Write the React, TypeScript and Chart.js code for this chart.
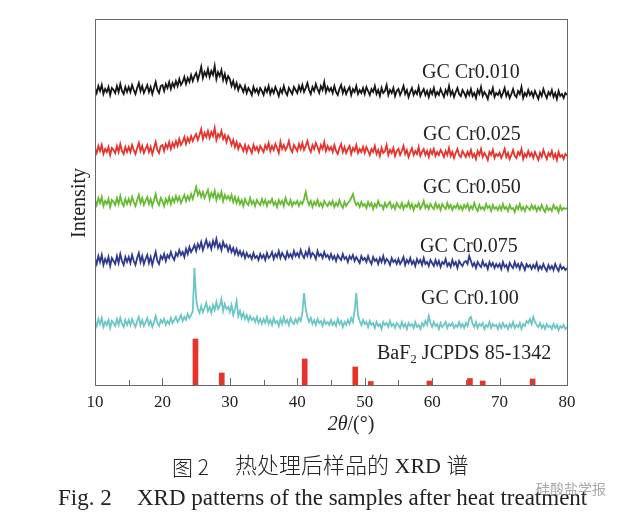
import React, { useEffect, useRef } from "react";
import { Chart, registerables } from "chart.js";

Chart.register(...registerables);

// 2θ sampling grid (degrees), 0.25° step
const twoTheta = [
  10, 10.25, 10.5, 10.75, 11, 11.25, 11.5, 11.75, 12, 12.25, 12.5, 12.75, 13, 13.25, 13.5, 13.75, 14, 14.25, 14.5, 14.75,
  15, 15.25, 15.5, 15.75, 16, 16.25, 16.5, 16.75, 17, 17.25, 17.5, 17.75, 18, 18.25, 18.5, 18.75, 19, 19.25, 19.5, 19.75,
  20, 20.25, 20.5, 20.75, 21, 21.25, 21.5, 21.75, 22, 22.25, 22.5, 22.75, 23, 23.25, 23.5, 23.75, 24, 24.25, 24.5, 24.75,
  25, 25.25, 25.5, 25.75, 26, 26.25, 26.5, 26.75, 27, 27.25, 27.5, 27.75, 28, 28.25, 28.5, 28.75, 29, 29.25, 29.5, 29.75,
  30, 30.25, 30.5, 30.75, 31, 31.25, 31.5, 31.75, 32, 32.25, 32.5, 32.75, 33, 33.25, 33.5, 33.75, 34, 34.25, 34.5, 34.75,
  35, 35.25, 35.5, 35.75, 36, 36.25, 36.5, 36.75, 37, 37.25, 37.5, 37.75, 38, 38.25, 38.5, 38.75, 39, 39.25, 39.5, 39.75,
  40, 40.25, 40.5, 40.75, 41, 41.25, 41.5, 41.75, 42, 42.25, 42.5, 42.75, 43, 43.25, 43.5, 43.75, 44, 44.25, 44.5, 44.75,
  45, 45.25, 45.5, 45.75, 46, 46.25, 46.5, 46.75, 47, 47.25, 47.5, 47.75, 48, 48.25, 48.5, 48.75, 49, 49.25, 49.5, 49.75,
  50, 50.25, 50.5, 50.75, 51, 51.25, 51.5, 51.75, 52, 52.25, 52.5, 52.75, 53, 53.25, 53.5, 53.75, 54, 54.25, 54.5, 54.75,
  55, 55.25, 55.5, 55.75, 56, 56.25, 56.5, 56.75, 57, 57.25, 57.5, 57.75, 58, 58.25, 58.5, 58.75, 59, 59.25, 59.5, 59.75,
  60, 60.25, 60.5, 60.75, 61, 61.25, 61.5, 61.75, 62, 62.25, 62.5, 62.75, 63, 63.25, 63.5, 63.75, 64, 64.25, 64.5, 64.75,
  65, 65.25, 65.5, 65.75, 66, 66.25, 66.5, 66.75, 67, 67.25, 67.5, 67.75, 68, 68.25, 68.5, 68.75, 69, 69.25, 69.5, 69.75,
  70, 70.25, 70.5, 70.75, 71, 71.25, 71.5, 71.75, 72, 72.25, 72.5, 72.75, 73, 73.25, 73.5, 73.75, 74, 74.25, 74.5, 74.75,
  75, 75.25, 75.5, 75.75, 76, 76.25, 76.5, 76.75, 77, 77.25, 77.5, 77.75, 78, 78.25, 78.5, 78.75, 79, 79.25, 79.5, 79.75,
  80,
];

// Offset intensities (arbitrary units)
const cr010 = [
  297, 292, 299, 294, 300, 291, 296, 293, 298, 290, 297, 295, 292, 299, 293, 301, 294, 291, 298, 293,
  298, 293, 300, 295, 291, 297, 302, 294, 299, 292, 296, 300, 293, 298, 291, 297, 303, 295, 292, 299,
  300, 294, 301, 297, 303, 296, 302, 298, 304, 299, 306, 300, 303, 308, 301, 307, 303, 310, 304, 309,
  312, 305, 311, 318, 307, 313, 309, 316, 308, 314, 310, 319, 306, 313, 309, 315, 305, 311, 303, 309,
  306, 299, 304, 297, 302, 295, 300, 297, 293, 299, 292, 297, 294, 290, 298, 293, 296, 291, 297, 294,
  290, 297, 293, 299, 291, 296, 292, 298, 294, 289, 296, 292, 299, 293, 290, 297, 294, 291, 298, 295,
  292, 299, 294, 300, 293, 297, 302, 295, 291, 298, 294, 301, 296, 292, 299, 295, 303, 293, 298, 294,
  297, 292, 299, 293, 290, 296, 300, 292, 297, 291, 295, 298, 290, 296, 293, 299, 291, 295, 292, 297,
  291, 298, 294, 290, 296, 293, 299, 291, 295, 289, 297, 292, 294, 300, 290, 295, 292, 297, 289, 294,
  296, 290, 294, 299, 291, 295, 288, 293, 297, 290, 294, 291, 298, 289, 293, 296, 290, 294, 288, 295,
  291, 297, 289, 293, 290, 296, 292, 288, 295, 291, 299, 290, 294, 288, 293, 297, 291, 289, 295, 292,
  288, 294, 290, 296, 289, 292, 287, 295, 291, 298, 289, 293, 290, 286, 294, 291, 297, 288, 292, 290,
  294, 288, 292, 297, 289, 293, 287, 291, 296, 290, 288, 294, 291, 298, 287, 292, 289, 295, 290, 293,
  288, 294, 290, 286, 293, 289, 296, 291, 287, 293, 290, 295, 288, 292, 286, 294, 289, 291, 287, 292,
  290,
];

const cr025 = [
  237, 232, 239, 234, 240, 231, 236, 233, 238, 230, 237, 235, 232, 239, 233, 241, 234, 231, 238, 233,
  238, 233, 240, 235, 231, 237, 242, 234, 239, 232, 236, 240, 233, 238, 231, 237, 243, 235, 232, 239,
  240, 234, 241, 237, 243, 236, 242, 238, 244, 239, 246, 240, 243, 248, 241, 247, 243, 249, 244, 248,
  251, 245, 250, 256, 246, 252, 248, 254, 247, 253, 249, 257, 245, 251, 248, 254, 246, 250, 243, 249,
  246, 240, 245, 238, 243, 236, 241, 238, 234, 240, 233, 239, 236, 232, 240, 235, 238, 233, 239, 236,
  233, 240, 236, 242, 234, 239, 235, 241, 237, 232, 243, 236, 240, 235, 238, 244, 236, 233, 240, 237,
  234, 241, 236, 242, 235, 239, 244, 237, 233, 240, 236, 242, 238, 233, 240, 236, 243, 234, 239, 235,
  238, 233, 240, 234, 231, 237, 241, 233, 238, 232, 236, 239, 231, 237, 234, 240, 232, 236, 233, 238,
  232, 238, 234, 230, 236, 233, 239, 231, 235, 229, 237, 232, 234, 240, 230, 235, 232, 237, 229, 234,
  236, 230, 234, 239, 231, 235, 228, 233, 237, 230, 234, 231, 238, 229, 233, 236, 230, 234, 228, 235,
  231, 236, 229, 233, 230, 235, 232, 228, 234, 230, 237, 229, 233, 227, 232, 236, 230, 228, 234, 231,
  228, 233, 229, 235, 228, 231, 226, 234, 230, 236, 228, 232, 229, 225, 233, 230, 235, 227, 231, 229,
  232, 227, 231, 236, 228, 232, 226, 230, 235, 229, 227, 233, 230, 236, 226, 231, 228, 234, 229, 232,
  227, 233, 229, 225, 232, 228, 235, 230, 226, 232, 229, 234, 227, 231, 225, 233, 228, 230, 226, 231,
  229,
];

const cr050 = [
  185, 180, 187, 182, 188, 179, 184, 181, 186, 178, 185, 183, 180, 187, 181, 189, 182, 179, 186, 181,
  186, 181, 188, 183, 179, 185, 190, 182, 187, 180, 184, 188, 181, 186, 179, 185, 191, 183, 180, 187,
  184, 179, 186, 182, 188, 181, 187, 183, 189, 184, 188, 182, 186, 190, 184, 189, 185, 191, 186, 192,
  198, 190, 194, 188, 193, 187, 191, 195, 186, 192, 188, 194, 185, 191, 187, 193, 184, 190, 186, 189,
  185, 190, 183, 188, 182, 187, 181, 185, 179, 186, 182, 180, 187, 181, 184, 179, 185, 182, 180, 186,
  181, 185, 179, 184, 182, 186, 180, 183, 178, 185, 181, 184, 179, 187, 182, 180, 185, 179, 183, 181,
  184, 179, 183, 181, 186, 193, 185, 180, 184, 178, 183, 180, 185, 179, 182, 178, 184, 181, 179, 183,
  180, 184, 178, 182, 179, 185, 180, 177, 183, 179, 182, 184, 187, 191, 184, 180, 182, 178, 183, 179,
  181, 177, 183, 179, 182, 176, 181, 178, 184, 179, 180, 176, 182, 178, 181, 183, 177, 180, 176, 182,
  179, 177, 182, 176, 180, 178, 183, 177, 181, 175, 180, 178, 182, 176, 179, 184, 177, 180, 176, 181,
  178, 176, 182, 177, 180, 175, 181, 178, 176, 182, 177, 180, 175, 179, 177, 181, 176, 179, 175, 180,
  177, 181, 175, 179, 176, 182, 177, 174, 180, 176, 178, 175, 181, 177, 179, 174, 180, 176, 178, 175,
  179, 175, 181, 176, 178, 174, 180, 176, 177, 173, 179, 176, 181, 175, 178, 174, 179, 177, 175, 180,
  176, 179, 174, 178, 175, 180, 176, 173, 179, 175, 177, 174, 180, 176, 178, 173, 179, 175, 177, 176,
  177,
];

const cr075 = [
  127, 121, 129, 123, 130, 120, 126, 122, 128, 119, 127, 124, 121, 129, 122, 131, 124, 120, 128, 123,
  128, 122, 130, 124, 120, 127, 132, 123, 129, 121, 126, 130, 122, 128, 120, 127, 133, 124, 121, 129,
  126, 131, 124, 130, 127, 133, 128, 125, 132, 129, 135, 130, 133, 128, 136, 131, 138, 133, 136, 140,
  134, 141, 137, 143, 135, 140, 145, 138, 142, 136, 144, 139, 146, 137, 141, 135, 143, 138, 140, 134,
  139, 133, 137, 131, 136, 130, 134, 129, 133, 127, 132, 128, 130, 126, 132, 127, 129, 125, 131, 127,
  130, 125, 132, 127, 129, 133, 126, 131, 128, 134, 127, 132, 129, 126, 133, 128, 131, 127, 134, 129,
  132, 128, 135, 130, 127, 133, 129, 136, 128, 132, 130, 126, 134, 129, 131, 127, 133, 128, 130, 126,
  131, 126, 129, 124, 130, 127, 125, 131, 126, 128, 123, 129, 126, 130, 124, 128, 125, 122, 129, 125,
  127, 123, 129, 124, 121, 128, 124, 126, 121, 127, 123, 129, 122, 126, 124, 120, 127, 123, 125, 121,
  126, 121, 124, 128, 120, 125, 122, 127, 121, 124, 119, 126, 122, 125, 120, 127, 121, 123, 119, 125,
  122, 119, 125, 120, 124, 118, 123, 121, 126, 119, 122, 118, 125, 120, 123, 117, 124, 121, 119, 123,
  124, 121, 129, 124, 119, 122, 117, 123, 120, 118, 124, 119, 121, 116, 123, 119, 122, 117, 121, 118,
  121, 116, 123, 118, 120, 115, 122, 119, 117, 123, 118, 121, 116, 122, 119, 115, 121, 118, 120, 116,
  120, 117, 122, 115, 119, 116, 121, 117, 114, 120, 116, 119, 115, 121, 117, 114, 120, 116, 118, 115,
  117,
];

const cr100 = [
  64, 59, 66, 61, 67, 58, 63, 60, 65, 57, 64, 62, 59, 66, 60, 67, 61, 58, 65, 60,
  65, 60, 66, 61, 58, 64, 68, 60, 65, 59, 63, 67, 60, 64, 58, 63, 69, 62, 59, 65,
  62, 66, 60, 64, 61, 67, 62, 65, 68, 63, 66, 70, 64, 68, 65, 71, 67, 70, 74, 117,
  86, 76, 72, 79, 73, 77, 82, 74, 78, 72, 80, 75, 83, 76, 79, 86, 74, 81, 76, 78,
  73, 80, 70, 76, 84, 69, 74, 67, 72, 66, 70, 64, 69, 65, 67, 63, 68, 62, 66, 61,
  66, 62, 68, 61, 65, 60, 67, 62, 64, 59, 66, 61, 68, 62, 65, 60, 67, 63, 61, 66,
  62, 67, 64, 72, 92, 76, 68, 63, 67, 61, 65, 60, 66, 62, 64, 59, 65, 61, 63, 60,
  65, 60, 63, 59, 66, 61, 64, 58, 63, 60, 65, 61, 67, 63, 74, 92, 70, 64, 60, 65,
  61, 63, 58, 64, 60, 62, 57, 63, 59, 61, 56, 63, 60, 62, 58, 64, 59, 61, 57, 62,
  60, 57, 63, 58, 61, 56, 62, 59, 61, 57, 63, 58, 60, 56, 62, 59, 64, 60, 69, 62,
  58, 63, 59, 61, 56, 62, 58, 60, 63, 57, 61, 59, 62, 57, 60, 58, 63, 58, 61, 57,
  62, 59, 66, 68, 61, 58, 63, 57, 61, 59, 62, 56, 60, 58, 63, 57, 61, 59, 60, 56,
  61, 57, 62, 58, 60, 56, 61, 58, 63, 57, 60, 58, 62, 56, 61, 59, 64, 62, 66, 61,
  68, 63, 60, 58, 62, 57, 60, 56, 61, 58, 59, 56, 61, 57, 60, 55, 59, 57, 60, 56,
  58,
];

// BaF2 JCPDS 85-1342 reference lines
const refPos = [24.9, 28.8, 41.1, 48.6, 50.9, 59.6, 65.6, 67.5, 74.9];
const refInt = [46, 12, 26, 18, 3.5, 4, 6.5, 4, 6];

const xTickLabels = [10, 20, 30, 40, 50, 60, 70, 80];
const xTickMarks = [15, 20, 25, 30, 35, 40, 45, 50, 55, 60, 65, 70, 75];

const seriesNames = ["GC Cr0.010", "GC Cr0.025", "GC Cr0.050", "GC Cr0.075", "GC Cr0.100"];
const seriesData = [cr010, cr025, cr050, cr075, cr100];
const seriesColors = ["#161616", "#e8322c", "#66bb33", "#2e3a8e", "#6cc6c6"];

const SERIF = '"Liberation Serif", "Times New Roman", serif';

const framePlugin = {
  id: "frame",
  afterDatasetsDraw(chart: any) {
    const { ctx, chartArea, scales } = chart;
    const { left, top, right, bottom } = chartArea;
    ctx.save();
    ctx.strokeStyle = "#6a6a6a";
    ctx.lineWidth = 1;
    ctx.strokeRect(Math.round(left) + 0.5, Math.round(top) + 0.5, Math.round(right - left), Math.round(bottom - top));
    for (const v of xTickMarks) {
      const px = Math.round(scales.x.getPixelForValue(v)) + 0.5;
      const len = v % 10 === 0 ? 7 : 5;
      ctx.beginPath();
      ctx.moveTo(px, bottom);
      ctx.lineTo(px, bottom - len);
      ctx.stroke();
    }
    ctx.restore();
  },
};

export default function App() {
  const ref = useRef<HTMLCanvasElement | null>(null);

  useEffect(() => {
    if (!ref.current) return;
    const lineSets = seriesData.map((s, k) => ({
      type: "line" as const,
      label: seriesNames[k],
      data: twoTheta.map((x, i) => ({ x, y: s[i] })),
      borderColor: seriesColors[k],
      borderWidth: 1.8,
      pointRadius: 0,
      tension: 0,
    }));
    const chart = new Chart(ref.current, {
      type: "line",
      data: {
        datasets: [
          ...lineSets,
          {
            type: "bar" as const,
            label: "BaF2 JCPDS 85-1342",
            data: refPos.map((x, i) => ({ x, y: refInt[i] })),
            backgroundColor: "#e8322c",
            barThickness: 5,
          } as any,
        ],
      },
      options: {
        animation: false,
        responsive: false,
        devicePixelRatio: 1,
        layout: { padding: { left: 95, right: 63, top: 19, bottom: 92 } },
        plugins: { legend: { display: false }, tooltip: { enabled: false } },
        scales: {
          x: {
            type: "linear",
            min: 10,
            max: 80,
            offset: false,
            grid: { display: false, drawTicks: false },
            border: { display: false },
            afterBuildTicks: (s: any) => {
              s.ticks = xTickLabels.map((v) => ({ value: v }));
            },
            afterFit: (s: any) => {
              s.height = 40;
            },
            ticks: {
              autoSkip: false,
              maxRotation: 0,
              padding: 7,
              color: "#222",
              font: { family: SERIF, size: 17 },
            },
          },
          y: {
            type: "linear",
            min: 0,
            max: 366,
            display: false,
          },
        },
      },
      plugins: [framePlugin],
    });
    return () => chart.destroy();
  }, []);

  const lbl = (text: React.ReactNode, left: number, cy: number, size = 20, extra: any = {}) => (
    <div
      style={{
        position: "absolute",
        left,
        top: cy,
        transform: "translateY(-50%)",
        fontFamily: SERIF,
        fontSize: size,
        lineHeight: 1,
        color: "#222",
        whiteSpace: "nowrap",
        ...extra,
      }}
    >
      {text}
    </div>
  );

  return (
    <div style={{ position: "absolute", left: 0, top: 0, width: 630, height: 517, background: "#fff", overflow: "hidden" }}>
      <canvas ref={ref} width={630} height={517} style={{ position: "absolute", left: 0, top: 0 }} />
      {lbl(seriesNames[0], 422, 71)}
      {lbl(seriesNames[1], 423, 133)}
      {lbl(seriesNames[2], 423, 186)}
      {lbl(seriesNames[3], 420, 245)}
      {lbl(seriesNames[4], 421, 297)}
      {lbl(
        <span>
          BaF<sub style={{ fontSize: 13, verticalAlign: "-4px" }}>2</sub> JCPDS 85-1342
        </span>,
        377,
        353
      )}
      <div
        style={{
          position: "absolute",
          left: 78,
          top: 203,
          transform: "translate(-50%, -50%) rotate(-90deg)",
          fontFamily: SERIF,
          fontSize: 20,
          lineHeight: 1,
          color: "#222",
          whiteSpace: "nowrap",
        }}
      >
        Intensity
      </div>
      <div
        style={{
          position: "absolute",
          left: 351,
          top: 423,
          transform: "translate(-50%, -50%)",
          fontFamily: SERIF,
          fontSize: 20,
          lineHeight: 1,
          color: "#222",
          whiteSpace: "nowrap",
        }}
      >
        <i>2θ</i>/(°)
      </div>
      {lbl("图 2", 172, 466, 21, { fontFamily: '"Noto Sans CJK SC", ' + SERIF, fontWeight: 300 })}
      {lbl("热处理后样品的 XRD 谱", 235, 466, 22, { fontFamily: SERIF + ', "Noto Sans CJK SC"', fontWeight: 300 })}
      {lbl("Fig. 2", 58, 497, 23)}
      {lbl("XRD patterns of the samples after heat treatment", 137, 497, 23)}
      {lbl("硅酸盐学报", 536, 488, 14, {
        fontFamily: '"Noto Sans CJK SC", sans-serif',
        color: "rgba(140,140,140,0.75)",
      })}
    </div>
  );
}
